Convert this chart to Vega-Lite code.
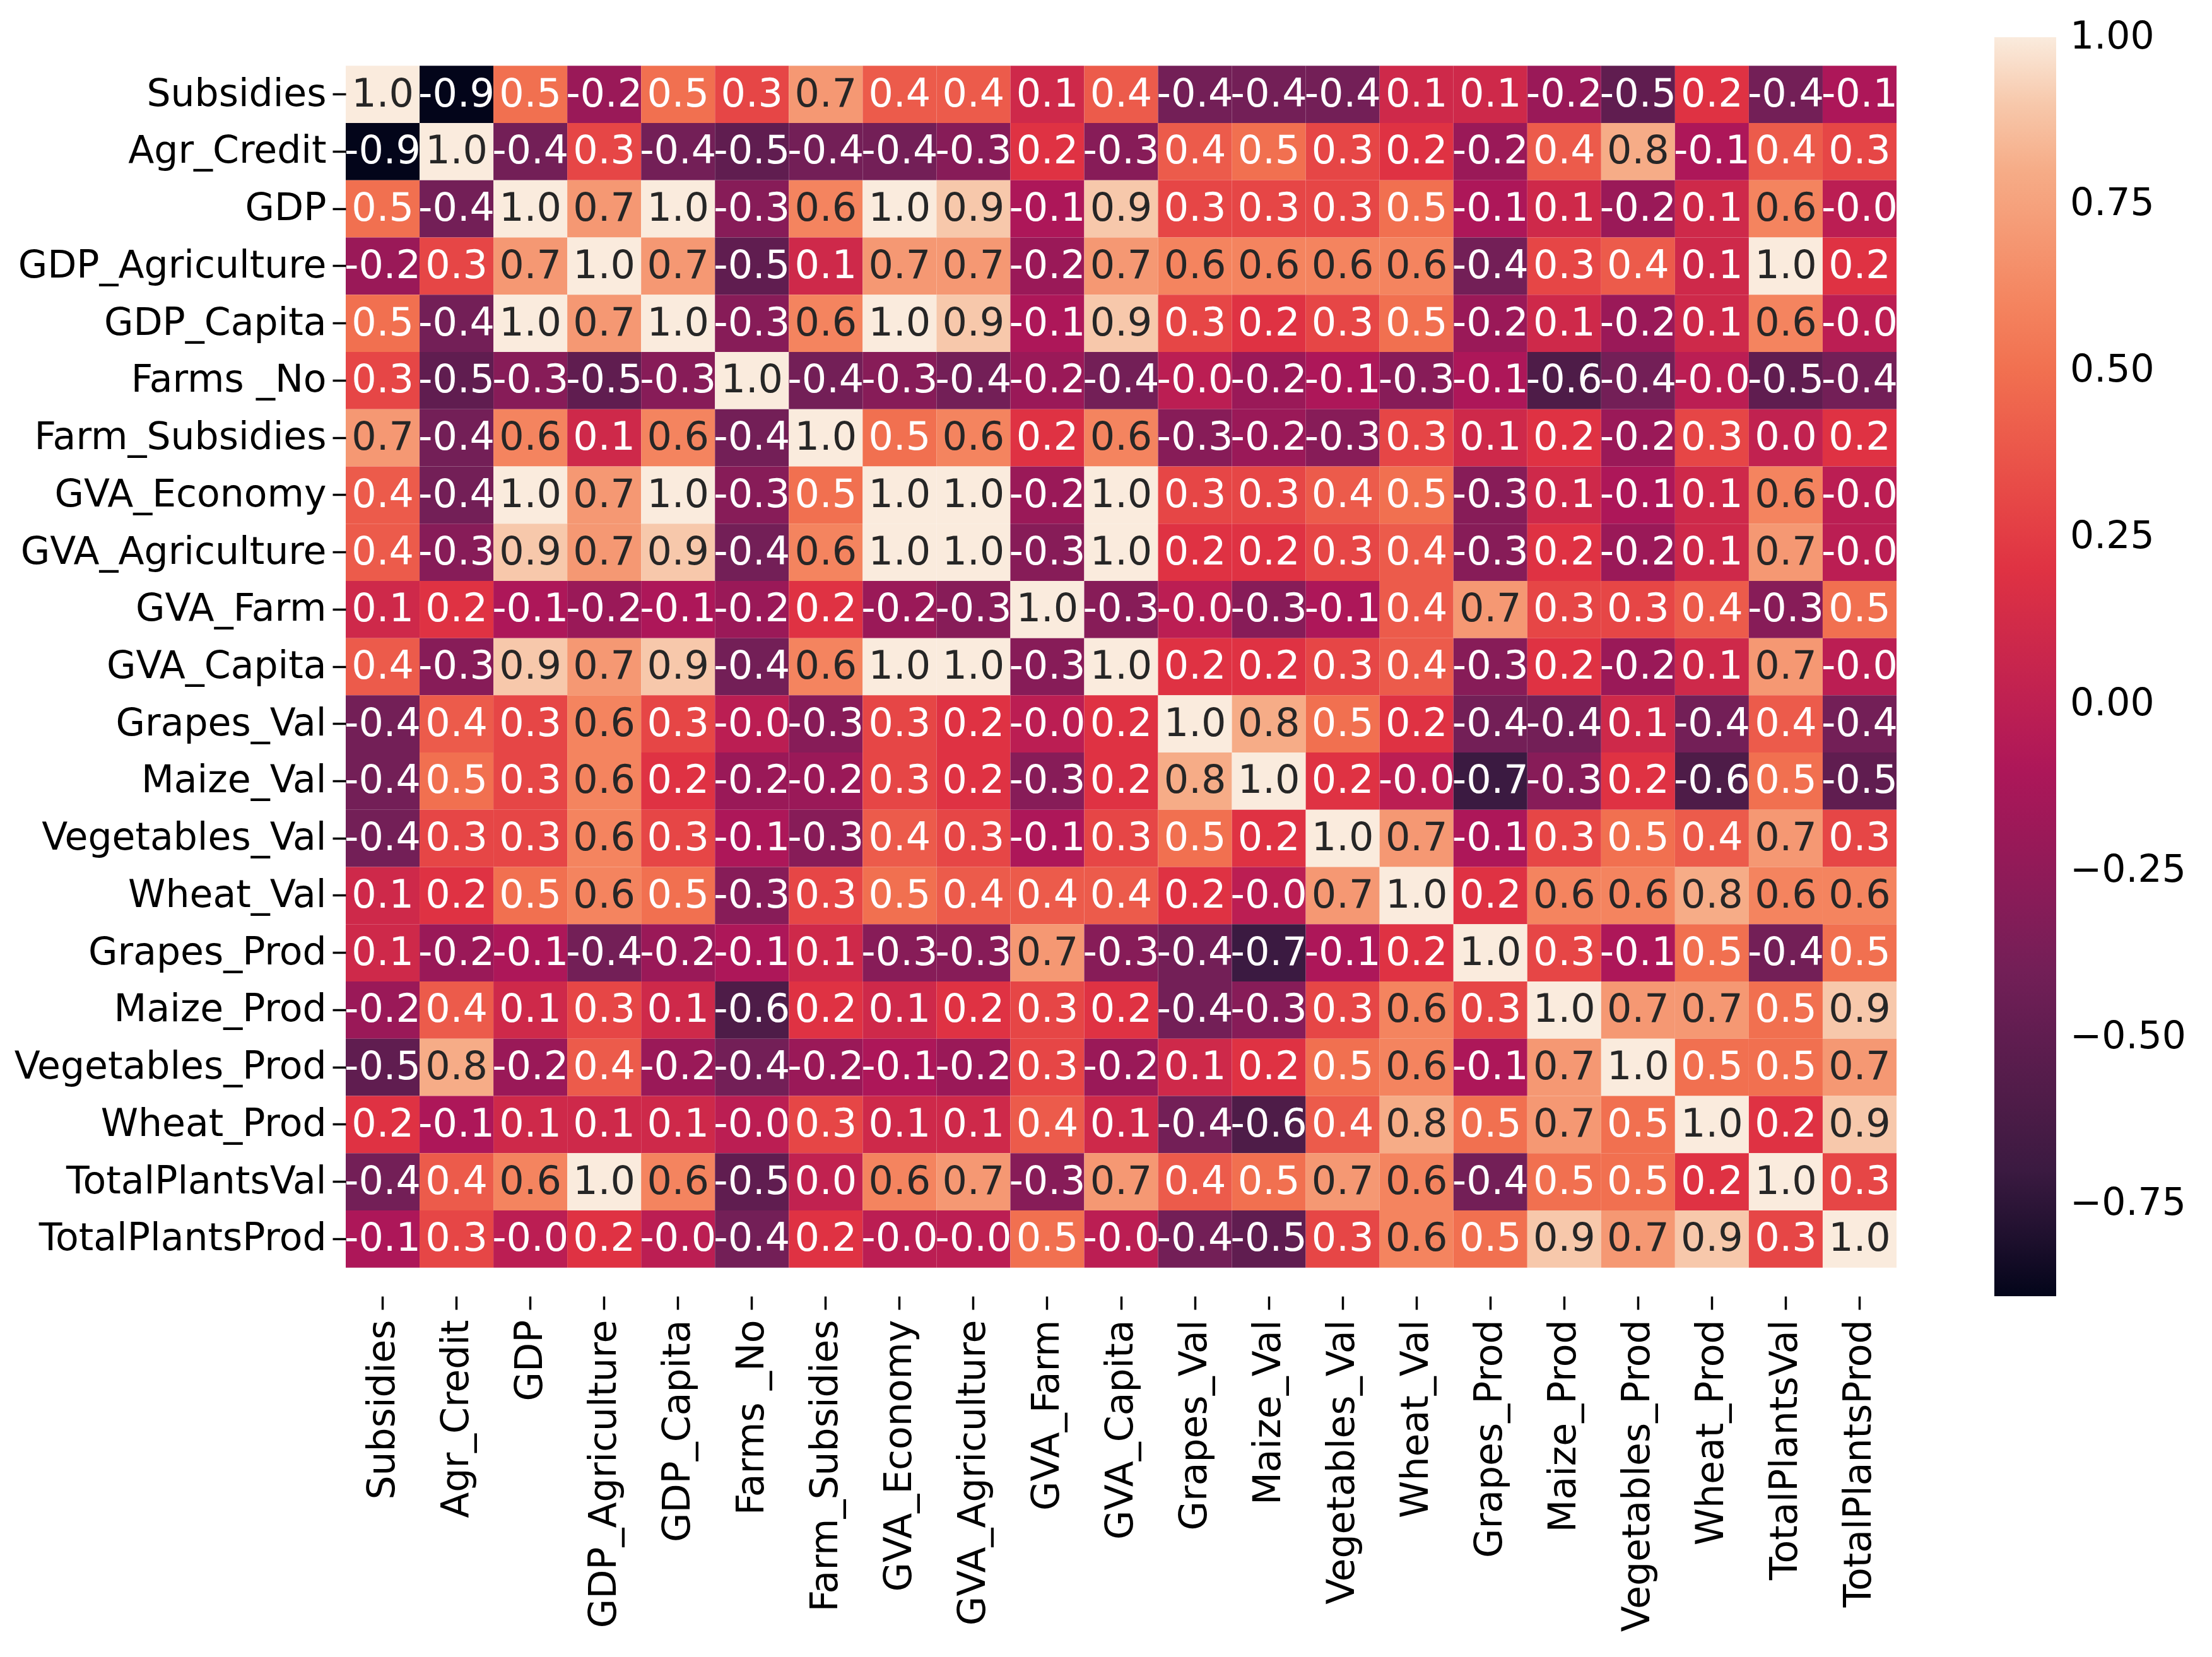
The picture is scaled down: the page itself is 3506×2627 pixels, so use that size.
{
"$schema": "https://vega.github.io/schema/vega-lite/v6.json",
"autosize": {"type": "none"},
"padding": {"left": 548, "top": 59, "right": 500, "bottom": 572},
"width": 2458,
"height": 1996,
"background": "white",
"config": {"font": "DejaVu Sans", "view": {"stroke": null}},
"data": {"values": [
{"r":"Subsidies","c":"Subsidies","v":1.0,"t":"1.0"},{"r":"Subsidies","c":"Agr_Credit","v":-0.89,"t":"-0.9"},{"r":"Subsidies","c":"GDP","v":0.5,"t":"0.5"},{"r":"Subsidies","c":"GDP_Agriculture","v":-0.2,"t":"-0.2"},{"r":"Subsidies","c":"GDP_Capita","v":0.5,"t":"0.5"},{"r":"Subsidies","c":"Farms _No","v":0.3,"t":"0.3"},{"r":"Subsidies","c":"Farm_Subsidies","v":0.7,"t":"0.7"},{"r":"Subsidies","c":"GVA_Economy","v":0.4,"t":"0.4"},{"r":"Subsidies","c":"GVA_Agriculture","v":0.4,"t":"0.4"},{"r":"Subsidies","c":"GVA_Farm","v":0.1,"t":"0.1"},{"r":"Subsidies","c":"GVA_Capita","v":0.4,"t":"0.4"},{"r":"Subsidies","c":"Grapes_Val","v":-0.4,"t":"-0.4"},{"r":"Subsidies","c":"Maize_Val","v":-0.4,"t":"-0.4"},{"r":"Subsidies","c":"Vegetables_Val","v":-0.4,"t":"-0.4"},{"r":"Subsidies","c":"Wheat_Val","v":0.1,"t":"0.1"},{"r":"Subsidies","c":"Grapes_Prod","v":0.1,"t":"0.1"},{"r":"Subsidies","c":"Maize_Prod","v":-0.2,"t":"-0.2"},{"r":"Subsidies","c":"Vegetables_Prod","v":-0.5,"t":"-0.5"},{"r":"Subsidies","c":"Wheat_Prod","v":0.2,"t":"0.2"},{"r":"Subsidies","c":"TotalPlantsVal","v":-0.4,"t":"-0.4"},{"r":"Subsidies","c":"TotalPlantsProd","v":-0.1,"t":"-0.1"},
{"r":"Agr_Credit","c":"Subsidies","v":-0.89,"t":"-0.9"},{"r":"Agr_Credit","c":"Agr_Credit","v":1.0,"t":"1.0"},{"r":"Agr_Credit","c":"GDP","v":-0.4,"t":"-0.4"},{"r":"Agr_Credit","c":"GDP_Agriculture","v":0.3,"t":"0.3"},{"r":"Agr_Credit","c":"GDP_Capita","v":-0.4,"t":"-0.4"},{"r":"Agr_Credit","c":"Farms _No","v":-0.5,"t":"-0.5"},{"r":"Agr_Credit","c":"Farm_Subsidies","v":-0.4,"t":"-0.4"},{"r":"Agr_Credit","c":"GVA_Economy","v":-0.4,"t":"-0.4"},{"r":"Agr_Credit","c":"GVA_Agriculture","v":-0.3,"t":"-0.3"},{"r":"Agr_Credit","c":"GVA_Farm","v":0.2,"t":"0.2"},{"r":"Agr_Credit","c":"GVA_Capita","v":-0.3,"t":"-0.3"},{"r":"Agr_Credit","c":"Grapes_Val","v":0.4,"t":"0.4"},{"r":"Agr_Credit","c":"Maize_Val","v":0.5,"t":"0.5"},{"r":"Agr_Credit","c":"Vegetables_Val","v":0.3,"t":"0.3"},{"r":"Agr_Credit","c":"Wheat_Val","v":0.2,"t":"0.2"},{"r":"Agr_Credit","c":"Grapes_Prod","v":-0.2,"t":"-0.2"},{"r":"Agr_Credit","c":"Maize_Prod","v":0.4,"t":"0.4"},{"r":"Agr_Credit","c":"Vegetables_Prod","v":0.8,"t":"0.8"},{"r":"Agr_Credit","c":"Wheat_Prod","v":-0.1,"t":"-0.1"},{"r":"Agr_Credit","c":"TotalPlantsVal","v":0.4,"t":"0.4"},{"r":"Agr_Credit","c":"TotalPlantsProd","v":0.3,"t":"0.3"},
{"r":"GDP","c":"Subsidies","v":0.5,"t":"0.5"},{"r":"GDP","c":"Agr_Credit","v":-0.4,"t":"-0.4"},{"r":"GDP","c":"GDP","v":1.0,"t":"1.0"},{"r":"GDP","c":"GDP_Agriculture","v":0.7,"t":"0.7"},{"r":"GDP","c":"GDP_Capita","v":1.0,"t":"1.0"},{"r":"GDP","c":"Farms _No","v":-0.3,"t":"-0.3"},{"r":"GDP","c":"Farm_Subsidies","v":0.6,"t":"0.6"},{"r":"GDP","c":"GVA_Economy","v":1.0,"t":"1.0"},{"r":"GDP","c":"GVA_Agriculture","v":0.9,"t":"0.9"},{"r":"GDP","c":"GVA_Farm","v":-0.1,"t":"-0.1"},{"r":"GDP","c":"GVA_Capita","v":0.9,"t":"0.9"},{"r":"GDP","c":"Grapes_Val","v":0.3,"t":"0.3"},{"r":"GDP","c":"Maize_Val","v":0.3,"t":"0.3"},{"r":"GDP","c":"Vegetables_Val","v":0.3,"t":"0.3"},{"r":"GDP","c":"Wheat_Val","v":0.5,"t":"0.5"},{"r":"GDP","c":"Grapes_Prod","v":-0.1,"t":"-0.1"},{"r":"GDP","c":"Maize_Prod","v":0.1,"t":"0.1"},{"r":"GDP","c":"Vegetables_Prod","v":-0.2,"t":"-0.2"},{"r":"GDP","c":"Wheat_Prod","v":0.1,"t":"0.1"},{"r":"GDP","c":"TotalPlantsVal","v":0.6,"t":"0.6"},{"r":"GDP","c":"TotalPlantsProd","v":-0.02,"t":"-0.0"},
{"r":"GDP_Agriculture","c":"Subsidies","v":-0.2,"t":"-0.2"},{"r":"GDP_Agriculture","c":"Agr_Credit","v":0.3,"t":"0.3"},{"r":"GDP_Agriculture","c":"GDP","v":0.7,"t":"0.7"},{"r":"GDP_Agriculture","c":"GDP_Agriculture","v":1.0,"t":"1.0"},{"r":"GDP_Agriculture","c":"GDP_Capita","v":0.7,"t":"0.7"},{"r":"GDP_Agriculture","c":"Farms _No","v":-0.5,"t":"-0.5"},{"r":"GDP_Agriculture","c":"Farm_Subsidies","v":0.1,"t":"0.1"},{"r":"GDP_Agriculture","c":"GVA_Economy","v":0.7,"t":"0.7"},{"r":"GDP_Agriculture","c":"GVA_Agriculture","v":0.7,"t":"0.7"},{"r":"GDP_Agriculture","c":"GVA_Farm","v":-0.2,"t":"-0.2"},{"r":"GDP_Agriculture","c":"GVA_Capita","v":0.7,"t":"0.7"},{"r":"GDP_Agriculture","c":"Grapes_Val","v":0.6,"t":"0.6"},{"r":"GDP_Agriculture","c":"Maize_Val","v":0.6,"t":"0.6"},{"r":"GDP_Agriculture","c":"Vegetables_Val","v":0.6,"t":"0.6"},{"r":"GDP_Agriculture","c":"Wheat_Val","v":0.6,"t":"0.6"},{"r":"GDP_Agriculture","c":"Grapes_Prod","v":-0.4,"t":"-0.4"},{"r":"GDP_Agriculture","c":"Maize_Prod","v":0.3,"t":"0.3"},{"r":"GDP_Agriculture","c":"Vegetables_Prod","v":0.4,"t":"0.4"},{"r":"GDP_Agriculture","c":"Wheat_Prod","v":0.1,"t":"0.1"},{"r":"GDP_Agriculture","c":"TotalPlantsVal","v":1.0,"t":"1.0"},{"r":"GDP_Agriculture","c":"TotalPlantsProd","v":0.2,"t":"0.2"},
{"r":"GDP_Capita","c":"Subsidies","v":0.5,"t":"0.5"},{"r":"GDP_Capita","c":"Agr_Credit","v":-0.4,"t":"-0.4"},{"r":"GDP_Capita","c":"GDP","v":1.0,"t":"1.0"},{"r":"GDP_Capita","c":"GDP_Agriculture","v":0.7,"t":"0.7"},{"r":"GDP_Capita","c":"GDP_Capita","v":1.0,"t":"1.0"},{"r":"GDP_Capita","c":"Farms _No","v":-0.3,"t":"-0.3"},{"r":"GDP_Capita","c":"Farm_Subsidies","v":0.6,"t":"0.6"},{"r":"GDP_Capita","c":"GVA_Economy","v":1.0,"t":"1.0"},{"r":"GDP_Capita","c":"GVA_Agriculture","v":0.9,"t":"0.9"},{"r":"GDP_Capita","c":"GVA_Farm","v":-0.1,"t":"-0.1"},{"r":"GDP_Capita","c":"GVA_Capita","v":0.9,"t":"0.9"},{"r":"GDP_Capita","c":"Grapes_Val","v":0.3,"t":"0.3"},{"r":"GDP_Capita","c":"Maize_Val","v":0.2,"t":"0.2"},{"r":"GDP_Capita","c":"Vegetables_Val","v":0.3,"t":"0.3"},{"r":"GDP_Capita","c":"Wheat_Val","v":0.5,"t":"0.5"},{"r":"GDP_Capita","c":"Grapes_Prod","v":-0.2,"t":"-0.2"},{"r":"GDP_Capita","c":"Maize_Prod","v":0.1,"t":"0.1"},{"r":"GDP_Capita","c":"Vegetables_Prod","v":-0.2,"t":"-0.2"},{"r":"GDP_Capita","c":"Wheat_Prod","v":0.1,"t":"0.1"},{"r":"GDP_Capita","c":"TotalPlantsVal","v":0.6,"t":"0.6"},{"r":"GDP_Capita","c":"TotalPlantsProd","v":-0.02,"t":"-0.0"},
{"r":"Farms _No","c":"Subsidies","v":0.3,"t":"0.3"},{"r":"Farms _No","c":"Agr_Credit","v":-0.5,"t":"-0.5"},{"r":"Farms _No","c":"GDP","v":-0.3,"t":"-0.3"},{"r":"Farms _No","c":"GDP_Agriculture","v":-0.5,"t":"-0.5"},{"r":"Farms _No","c":"GDP_Capita","v":-0.3,"t":"-0.3"},{"r":"Farms _No","c":"Farms _No","v":1.0,"t":"1.0"},{"r":"Farms _No","c":"Farm_Subsidies","v":-0.4,"t":"-0.4"},{"r":"Farms _No","c":"GVA_Economy","v":-0.3,"t":"-0.3"},{"r":"Farms _No","c":"GVA_Agriculture","v":-0.4,"t":"-0.4"},{"r":"Farms _No","c":"GVA_Farm","v":-0.2,"t":"-0.2"},{"r":"Farms _No","c":"GVA_Capita","v":-0.4,"t":"-0.4"},{"r":"Farms _No","c":"Grapes_Val","v":-0.02,"t":"-0.0"},{"r":"Farms _No","c":"Maize_Val","v":-0.2,"t":"-0.2"},{"r":"Farms _No","c":"Vegetables_Val","v":-0.1,"t":"-0.1"},{"r":"Farms _No","c":"Wheat_Val","v":-0.3,"t":"-0.3"},{"r":"Farms _No","c":"Grapes_Prod","v":-0.1,"t":"-0.1"},{"r":"Farms _No","c":"Maize_Prod","v":-0.6,"t":"-0.6"},{"r":"Farms _No","c":"Vegetables_Prod","v":-0.4,"t":"-0.4"},{"r":"Farms _No","c":"Wheat_Prod","v":-0.02,"t":"-0.0"},{"r":"Farms _No","c":"TotalPlantsVal","v":-0.5,"t":"-0.5"},{"r":"Farms _No","c":"TotalPlantsProd","v":-0.4,"t":"-0.4"},
{"r":"Farm_Subsidies","c":"Subsidies","v":0.7,"t":"0.7"},{"r":"Farm_Subsidies","c":"Agr_Credit","v":-0.4,"t":"-0.4"},{"r":"Farm_Subsidies","c":"GDP","v":0.6,"t":"0.6"},{"r":"Farm_Subsidies","c":"GDP_Agriculture","v":0.1,"t":"0.1"},{"r":"Farm_Subsidies","c":"GDP_Capita","v":0.6,"t":"0.6"},{"r":"Farm_Subsidies","c":"Farms _No","v":-0.4,"t":"-0.4"},{"r":"Farm_Subsidies","c":"Farm_Subsidies","v":1.0,"t":"1.0"},{"r":"Farm_Subsidies","c":"GVA_Economy","v":0.5,"t":"0.5"},{"r":"Farm_Subsidies","c":"GVA_Agriculture","v":0.6,"t":"0.6"},{"r":"Farm_Subsidies","c":"GVA_Farm","v":0.2,"t":"0.2"},{"r":"Farm_Subsidies","c":"GVA_Capita","v":0.6,"t":"0.6"},{"r":"Farm_Subsidies","c":"Grapes_Val","v":-0.3,"t":"-0.3"},{"r":"Farm_Subsidies","c":"Maize_Val","v":-0.2,"t":"-0.2"},{"r":"Farm_Subsidies","c":"Vegetables_Val","v":-0.3,"t":"-0.3"},{"r":"Farm_Subsidies","c":"Wheat_Val","v":0.3,"t":"0.3"},{"r":"Farm_Subsidies","c":"Grapes_Prod","v":0.1,"t":"0.1"},{"r":"Farm_Subsidies","c":"Maize_Prod","v":0.2,"t":"0.2"},{"r":"Farm_Subsidies","c":"Vegetables_Prod","v":-0.2,"t":"-0.2"},{"r":"Farm_Subsidies","c":"Wheat_Prod","v":0.3,"t":"0.3"},{"r":"Farm_Subsidies","c":"TotalPlantsVal","v":0.02,"t":"0.0"},{"r":"Farm_Subsidies","c":"TotalPlantsProd","v":0.2,"t":"0.2"},
{"r":"GVA_Economy","c":"Subsidies","v":0.4,"t":"0.4"},{"r":"GVA_Economy","c":"Agr_Credit","v":-0.4,"t":"-0.4"},{"r":"GVA_Economy","c":"GDP","v":1.0,"t":"1.0"},{"r":"GVA_Economy","c":"GDP_Agriculture","v":0.7,"t":"0.7"},{"r":"GVA_Economy","c":"GDP_Capita","v":1.0,"t":"1.0"},{"r":"GVA_Economy","c":"Farms _No","v":-0.3,"t":"-0.3"},{"r":"GVA_Economy","c":"Farm_Subsidies","v":0.5,"t":"0.5"},{"r":"GVA_Economy","c":"GVA_Economy","v":1.0,"t":"1.0"},{"r":"GVA_Economy","c":"GVA_Agriculture","v":1.0,"t":"1.0"},{"r":"GVA_Economy","c":"GVA_Farm","v":-0.2,"t":"-0.2"},{"r":"GVA_Economy","c":"GVA_Capita","v":1.0,"t":"1.0"},{"r":"GVA_Economy","c":"Grapes_Val","v":0.3,"t":"0.3"},{"r":"GVA_Economy","c":"Maize_Val","v":0.3,"t":"0.3"},{"r":"GVA_Economy","c":"Vegetables_Val","v":0.4,"t":"0.4"},{"r":"GVA_Economy","c":"Wheat_Val","v":0.5,"t":"0.5"},{"r":"GVA_Economy","c":"Grapes_Prod","v":-0.3,"t":"-0.3"},{"r":"GVA_Economy","c":"Maize_Prod","v":0.1,"t":"0.1"},{"r":"GVA_Economy","c":"Vegetables_Prod","v":-0.1,"t":"-0.1"},{"r":"GVA_Economy","c":"Wheat_Prod","v":0.1,"t":"0.1"},{"r":"GVA_Economy","c":"TotalPlantsVal","v":0.6,"t":"0.6"},{"r":"GVA_Economy","c":"TotalPlantsProd","v":-0.02,"t":"-0.0"},
{"r":"GVA_Agriculture","c":"Subsidies","v":0.4,"t":"0.4"},{"r":"GVA_Agriculture","c":"Agr_Credit","v":-0.3,"t":"-0.3"},{"r":"GVA_Agriculture","c":"GDP","v":0.9,"t":"0.9"},{"r":"GVA_Agriculture","c":"GDP_Agriculture","v":0.7,"t":"0.7"},{"r":"GVA_Agriculture","c":"GDP_Capita","v":0.9,"t":"0.9"},{"r":"GVA_Agriculture","c":"Farms _No","v":-0.4,"t":"-0.4"},{"r":"GVA_Agriculture","c":"Farm_Subsidies","v":0.6,"t":"0.6"},{"r":"GVA_Agriculture","c":"GVA_Economy","v":1.0,"t":"1.0"},{"r":"GVA_Agriculture","c":"GVA_Agriculture","v":1.0,"t":"1.0"},{"r":"GVA_Agriculture","c":"GVA_Farm","v":-0.3,"t":"-0.3"},{"r":"GVA_Agriculture","c":"GVA_Capita","v":1.0,"t":"1.0"},{"r":"GVA_Agriculture","c":"Grapes_Val","v":0.2,"t":"0.2"},{"r":"GVA_Agriculture","c":"Maize_Val","v":0.2,"t":"0.2"},{"r":"GVA_Agriculture","c":"Vegetables_Val","v":0.3,"t":"0.3"},{"r":"GVA_Agriculture","c":"Wheat_Val","v":0.4,"t":"0.4"},{"r":"GVA_Agriculture","c":"Grapes_Prod","v":-0.3,"t":"-0.3"},{"r":"GVA_Agriculture","c":"Maize_Prod","v":0.2,"t":"0.2"},{"r":"GVA_Agriculture","c":"Vegetables_Prod","v":-0.2,"t":"-0.2"},{"r":"GVA_Agriculture","c":"Wheat_Prod","v":0.1,"t":"0.1"},{"r":"GVA_Agriculture","c":"TotalPlantsVal","v":0.7,"t":"0.7"},{"r":"GVA_Agriculture","c":"TotalPlantsProd","v":-0.02,"t":"-0.0"},
{"r":"GVA_Farm","c":"Subsidies","v":0.1,"t":"0.1"},{"r":"GVA_Farm","c":"Agr_Credit","v":0.2,"t":"0.2"},{"r":"GVA_Farm","c":"GDP","v":-0.1,"t":"-0.1"},{"r":"GVA_Farm","c":"GDP_Agriculture","v":-0.2,"t":"-0.2"},{"r":"GVA_Farm","c":"GDP_Capita","v":-0.1,"t":"-0.1"},{"r":"GVA_Farm","c":"Farms _No","v":-0.2,"t":"-0.2"},{"r":"GVA_Farm","c":"Farm_Subsidies","v":0.2,"t":"0.2"},{"r":"GVA_Farm","c":"GVA_Economy","v":-0.2,"t":"-0.2"},{"r":"GVA_Farm","c":"GVA_Agriculture","v":-0.3,"t":"-0.3"},{"r":"GVA_Farm","c":"GVA_Farm","v":1.0,"t":"1.0"},{"r":"GVA_Farm","c":"GVA_Capita","v":-0.3,"t":"-0.3"},{"r":"GVA_Farm","c":"Grapes_Val","v":-0.02,"t":"-0.0"},{"r":"GVA_Farm","c":"Maize_Val","v":-0.3,"t":"-0.3"},{"r":"GVA_Farm","c":"Vegetables_Val","v":-0.1,"t":"-0.1"},{"r":"GVA_Farm","c":"Wheat_Val","v":0.4,"t":"0.4"},{"r":"GVA_Farm","c":"Grapes_Prod","v":0.7,"t":"0.7"},{"r":"GVA_Farm","c":"Maize_Prod","v":0.3,"t":"0.3"},{"r":"GVA_Farm","c":"Vegetables_Prod","v":0.3,"t":"0.3"},{"r":"GVA_Farm","c":"Wheat_Prod","v":0.4,"t":"0.4"},{"r":"GVA_Farm","c":"TotalPlantsVal","v":-0.3,"t":"-0.3"},{"r":"GVA_Farm","c":"TotalPlantsProd","v":0.5,"t":"0.5"},
{"r":"GVA_Capita","c":"Subsidies","v":0.4,"t":"0.4"},{"r":"GVA_Capita","c":"Agr_Credit","v":-0.3,"t":"-0.3"},{"r":"GVA_Capita","c":"GDP","v":0.9,"t":"0.9"},{"r":"GVA_Capita","c":"GDP_Agriculture","v":0.7,"t":"0.7"},{"r":"GVA_Capita","c":"GDP_Capita","v":0.9,"t":"0.9"},{"r":"GVA_Capita","c":"Farms _No","v":-0.4,"t":"-0.4"},{"r":"GVA_Capita","c":"Farm_Subsidies","v":0.6,"t":"0.6"},{"r":"GVA_Capita","c":"GVA_Economy","v":1.0,"t":"1.0"},{"r":"GVA_Capita","c":"GVA_Agriculture","v":1.0,"t":"1.0"},{"r":"GVA_Capita","c":"GVA_Farm","v":-0.3,"t":"-0.3"},{"r":"GVA_Capita","c":"GVA_Capita","v":1.0,"t":"1.0"},{"r":"GVA_Capita","c":"Grapes_Val","v":0.2,"t":"0.2"},{"r":"GVA_Capita","c":"Maize_Val","v":0.2,"t":"0.2"},{"r":"GVA_Capita","c":"Vegetables_Val","v":0.3,"t":"0.3"},{"r":"GVA_Capita","c":"Wheat_Val","v":0.4,"t":"0.4"},{"r":"GVA_Capita","c":"Grapes_Prod","v":-0.3,"t":"-0.3"},{"r":"GVA_Capita","c":"Maize_Prod","v":0.2,"t":"0.2"},{"r":"GVA_Capita","c":"Vegetables_Prod","v":-0.2,"t":"-0.2"},{"r":"GVA_Capita","c":"Wheat_Prod","v":0.1,"t":"0.1"},{"r":"GVA_Capita","c":"TotalPlantsVal","v":0.7,"t":"0.7"},{"r":"GVA_Capita","c":"TotalPlantsProd","v":-0.02,"t":"-0.0"},
{"r":"Grapes_Val","c":"Subsidies","v":-0.4,"t":"-0.4"},{"r":"Grapes_Val","c":"Agr_Credit","v":0.4,"t":"0.4"},{"r":"Grapes_Val","c":"GDP","v":0.3,"t":"0.3"},{"r":"Grapes_Val","c":"GDP_Agriculture","v":0.6,"t":"0.6"},{"r":"Grapes_Val","c":"GDP_Capita","v":0.3,"t":"0.3"},{"r":"Grapes_Val","c":"Farms _No","v":-0.02,"t":"-0.0"},{"r":"Grapes_Val","c":"Farm_Subsidies","v":-0.3,"t":"-0.3"},{"r":"Grapes_Val","c":"GVA_Economy","v":0.3,"t":"0.3"},{"r":"Grapes_Val","c":"GVA_Agriculture","v":0.2,"t":"0.2"},{"r":"Grapes_Val","c":"GVA_Farm","v":-0.02,"t":"-0.0"},{"r":"Grapes_Val","c":"GVA_Capita","v":0.2,"t":"0.2"},{"r":"Grapes_Val","c":"Grapes_Val","v":1.0,"t":"1.0"},{"r":"Grapes_Val","c":"Maize_Val","v":0.8,"t":"0.8"},{"r":"Grapes_Val","c":"Vegetables_Val","v":0.5,"t":"0.5"},{"r":"Grapes_Val","c":"Wheat_Val","v":0.2,"t":"0.2"},{"r":"Grapes_Val","c":"Grapes_Prod","v":-0.4,"t":"-0.4"},{"r":"Grapes_Val","c":"Maize_Prod","v":-0.4,"t":"-0.4"},{"r":"Grapes_Val","c":"Vegetables_Prod","v":0.1,"t":"0.1"},{"r":"Grapes_Val","c":"Wheat_Prod","v":-0.4,"t":"-0.4"},{"r":"Grapes_Val","c":"TotalPlantsVal","v":0.4,"t":"0.4"},{"r":"Grapes_Val","c":"TotalPlantsProd","v":-0.4,"t":"-0.4"},
{"r":"Maize_Val","c":"Subsidies","v":-0.4,"t":"-0.4"},{"r":"Maize_Val","c":"Agr_Credit","v":0.5,"t":"0.5"},{"r":"Maize_Val","c":"GDP","v":0.3,"t":"0.3"},{"r":"Maize_Val","c":"GDP_Agriculture","v":0.6,"t":"0.6"},{"r":"Maize_Val","c":"GDP_Capita","v":0.2,"t":"0.2"},{"r":"Maize_Val","c":"Farms _No","v":-0.2,"t":"-0.2"},{"r":"Maize_Val","c":"Farm_Subsidies","v":-0.2,"t":"-0.2"},{"r":"Maize_Val","c":"GVA_Economy","v":0.3,"t":"0.3"},{"r":"Maize_Val","c":"GVA_Agriculture","v":0.2,"t":"0.2"},{"r":"Maize_Val","c":"GVA_Farm","v":-0.3,"t":"-0.3"},{"r":"Maize_Val","c":"GVA_Capita","v":0.2,"t":"0.2"},{"r":"Maize_Val","c":"Grapes_Val","v":0.8,"t":"0.8"},{"r":"Maize_Val","c":"Maize_Val","v":1.0,"t":"1.0"},{"r":"Maize_Val","c":"Vegetables_Val","v":0.2,"t":"0.2"},{"r":"Maize_Val","c":"Wheat_Val","v":-0.02,"t":"-0.0"},{"r":"Maize_Val","c":"Grapes_Prod","v":-0.7,"t":"-0.7"},{"r":"Maize_Val","c":"Maize_Prod","v":-0.3,"t":"-0.3"},{"r":"Maize_Val","c":"Vegetables_Prod","v":0.2,"t":"0.2"},{"r":"Maize_Val","c":"Wheat_Prod","v":-0.6,"t":"-0.6"},{"r":"Maize_Val","c":"TotalPlantsVal","v":0.5,"t":"0.5"},{"r":"Maize_Val","c":"TotalPlantsProd","v":-0.5,"t":"-0.5"},
{"r":"Vegetables_Val","c":"Subsidies","v":-0.4,"t":"-0.4"},{"r":"Vegetables_Val","c":"Agr_Credit","v":0.3,"t":"0.3"},{"r":"Vegetables_Val","c":"GDP","v":0.3,"t":"0.3"},{"r":"Vegetables_Val","c":"GDP_Agriculture","v":0.6,"t":"0.6"},{"r":"Vegetables_Val","c":"GDP_Capita","v":0.3,"t":"0.3"},{"r":"Vegetables_Val","c":"Farms _No","v":-0.1,"t":"-0.1"},{"r":"Vegetables_Val","c":"Farm_Subsidies","v":-0.3,"t":"-0.3"},{"r":"Vegetables_Val","c":"GVA_Economy","v":0.4,"t":"0.4"},{"r":"Vegetables_Val","c":"GVA_Agriculture","v":0.3,"t":"0.3"},{"r":"Vegetables_Val","c":"GVA_Farm","v":-0.1,"t":"-0.1"},{"r":"Vegetables_Val","c":"GVA_Capita","v":0.3,"t":"0.3"},{"r":"Vegetables_Val","c":"Grapes_Val","v":0.5,"t":"0.5"},{"r":"Vegetables_Val","c":"Maize_Val","v":0.2,"t":"0.2"},{"r":"Vegetables_Val","c":"Vegetables_Val","v":1.0,"t":"1.0"},{"r":"Vegetables_Val","c":"Wheat_Val","v":0.7,"t":"0.7"},{"r":"Vegetables_Val","c":"Grapes_Prod","v":-0.1,"t":"-0.1"},{"r":"Vegetables_Val","c":"Maize_Prod","v":0.3,"t":"0.3"},{"r":"Vegetables_Val","c":"Vegetables_Prod","v":0.5,"t":"0.5"},{"r":"Vegetables_Val","c":"Wheat_Prod","v":0.4,"t":"0.4"},{"r":"Vegetables_Val","c":"TotalPlantsVal","v":0.7,"t":"0.7"},{"r":"Vegetables_Val","c":"TotalPlantsProd","v":0.3,"t":"0.3"},
{"r":"Wheat_Val","c":"Subsidies","v":0.1,"t":"0.1"},{"r":"Wheat_Val","c":"Agr_Credit","v":0.2,"t":"0.2"},{"r":"Wheat_Val","c":"GDP","v":0.5,"t":"0.5"},{"r":"Wheat_Val","c":"GDP_Agriculture","v":0.6,"t":"0.6"},{"r":"Wheat_Val","c":"GDP_Capita","v":0.5,"t":"0.5"},{"r":"Wheat_Val","c":"Farms _No","v":-0.3,"t":"-0.3"},{"r":"Wheat_Val","c":"Farm_Subsidies","v":0.3,"t":"0.3"},{"r":"Wheat_Val","c":"GVA_Economy","v":0.5,"t":"0.5"},{"r":"Wheat_Val","c":"GVA_Agriculture","v":0.4,"t":"0.4"},{"r":"Wheat_Val","c":"GVA_Farm","v":0.4,"t":"0.4"},{"r":"Wheat_Val","c":"GVA_Capita","v":0.4,"t":"0.4"},{"r":"Wheat_Val","c":"Grapes_Val","v":0.2,"t":"0.2"},{"r":"Wheat_Val","c":"Maize_Val","v":-0.02,"t":"-0.0"},{"r":"Wheat_Val","c":"Vegetables_Val","v":0.7,"t":"0.7"},{"r":"Wheat_Val","c":"Wheat_Val","v":1.0,"t":"1.0"},{"r":"Wheat_Val","c":"Grapes_Prod","v":0.2,"t":"0.2"},{"r":"Wheat_Val","c":"Maize_Prod","v":0.6,"t":"0.6"},{"r":"Wheat_Val","c":"Vegetables_Prod","v":0.6,"t":"0.6"},{"r":"Wheat_Val","c":"Wheat_Prod","v":0.8,"t":"0.8"},{"r":"Wheat_Val","c":"TotalPlantsVal","v":0.6,"t":"0.6"},{"r":"Wheat_Val","c":"TotalPlantsProd","v":0.6,"t":"0.6"},
{"r":"Grapes_Prod","c":"Subsidies","v":0.1,"t":"0.1"},{"r":"Grapes_Prod","c":"Agr_Credit","v":-0.2,"t":"-0.2"},{"r":"Grapes_Prod","c":"GDP","v":-0.1,"t":"-0.1"},{"r":"Grapes_Prod","c":"GDP_Agriculture","v":-0.4,"t":"-0.4"},{"r":"Grapes_Prod","c":"GDP_Capita","v":-0.2,"t":"-0.2"},{"r":"Grapes_Prod","c":"Farms _No","v":-0.1,"t":"-0.1"},{"r":"Grapes_Prod","c":"Farm_Subsidies","v":0.1,"t":"0.1"},{"r":"Grapes_Prod","c":"GVA_Economy","v":-0.3,"t":"-0.3"},{"r":"Grapes_Prod","c":"GVA_Agriculture","v":-0.3,"t":"-0.3"},{"r":"Grapes_Prod","c":"GVA_Farm","v":0.7,"t":"0.7"},{"r":"Grapes_Prod","c":"GVA_Capita","v":-0.3,"t":"-0.3"},{"r":"Grapes_Prod","c":"Grapes_Val","v":-0.4,"t":"-0.4"},{"r":"Grapes_Prod","c":"Maize_Val","v":-0.7,"t":"-0.7"},{"r":"Grapes_Prod","c":"Vegetables_Val","v":-0.1,"t":"-0.1"},{"r":"Grapes_Prod","c":"Wheat_Val","v":0.2,"t":"0.2"},{"r":"Grapes_Prod","c":"Grapes_Prod","v":1.0,"t":"1.0"},{"r":"Grapes_Prod","c":"Maize_Prod","v":0.3,"t":"0.3"},{"r":"Grapes_Prod","c":"Vegetables_Prod","v":-0.1,"t":"-0.1"},{"r":"Grapes_Prod","c":"Wheat_Prod","v":0.5,"t":"0.5"},{"r":"Grapes_Prod","c":"TotalPlantsVal","v":-0.4,"t":"-0.4"},{"r":"Grapes_Prod","c":"TotalPlantsProd","v":0.5,"t":"0.5"},
{"r":"Maize_Prod","c":"Subsidies","v":-0.2,"t":"-0.2"},{"r":"Maize_Prod","c":"Agr_Credit","v":0.4,"t":"0.4"},{"r":"Maize_Prod","c":"GDP","v":0.1,"t":"0.1"},{"r":"Maize_Prod","c":"GDP_Agriculture","v":0.3,"t":"0.3"},{"r":"Maize_Prod","c":"GDP_Capita","v":0.1,"t":"0.1"},{"r":"Maize_Prod","c":"Farms _No","v":-0.6,"t":"-0.6"},{"r":"Maize_Prod","c":"Farm_Subsidies","v":0.2,"t":"0.2"},{"r":"Maize_Prod","c":"GVA_Economy","v":0.1,"t":"0.1"},{"r":"Maize_Prod","c":"GVA_Agriculture","v":0.2,"t":"0.2"},{"r":"Maize_Prod","c":"GVA_Farm","v":0.3,"t":"0.3"},{"r":"Maize_Prod","c":"GVA_Capita","v":0.2,"t":"0.2"},{"r":"Maize_Prod","c":"Grapes_Val","v":-0.4,"t":"-0.4"},{"r":"Maize_Prod","c":"Maize_Val","v":-0.3,"t":"-0.3"},{"r":"Maize_Prod","c":"Vegetables_Val","v":0.3,"t":"0.3"},{"r":"Maize_Prod","c":"Wheat_Val","v":0.6,"t":"0.6"},{"r":"Maize_Prod","c":"Grapes_Prod","v":0.3,"t":"0.3"},{"r":"Maize_Prod","c":"Maize_Prod","v":1.0,"t":"1.0"},{"r":"Maize_Prod","c":"Vegetables_Prod","v":0.7,"t":"0.7"},{"r":"Maize_Prod","c":"Wheat_Prod","v":0.7,"t":"0.7"},{"r":"Maize_Prod","c":"TotalPlantsVal","v":0.5,"t":"0.5"},{"r":"Maize_Prod","c":"TotalPlantsProd","v":0.9,"t":"0.9"},
{"r":"Vegetables_Prod","c":"Subsidies","v":-0.5,"t":"-0.5"},{"r":"Vegetables_Prod","c":"Agr_Credit","v":0.8,"t":"0.8"},{"r":"Vegetables_Prod","c":"GDP","v":-0.2,"t":"-0.2"},{"r":"Vegetables_Prod","c":"GDP_Agriculture","v":0.4,"t":"0.4"},{"r":"Vegetables_Prod","c":"GDP_Capita","v":-0.2,"t":"-0.2"},{"r":"Vegetables_Prod","c":"Farms _No","v":-0.4,"t":"-0.4"},{"r":"Vegetables_Prod","c":"Farm_Subsidies","v":-0.2,"t":"-0.2"},{"r":"Vegetables_Prod","c":"GVA_Economy","v":-0.1,"t":"-0.1"},{"r":"Vegetables_Prod","c":"GVA_Agriculture","v":-0.2,"t":"-0.2"},{"r":"Vegetables_Prod","c":"GVA_Farm","v":0.3,"t":"0.3"},{"r":"Vegetables_Prod","c":"GVA_Capita","v":-0.2,"t":"-0.2"},{"r":"Vegetables_Prod","c":"Grapes_Val","v":0.1,"t":"0.1"},{"r":"Vegetables_Prod","c":"Maize_Val","v":0.2,"t":"0.2"},{"r":"Vegetables_Prod","c":"Vegetables_Val","v":0.5,"t":"0.5"},{"r":"Vegetables_Prod","c":"Wheat_Val","v":0.6,"t":"0.6"},{"r":"Vegetables_Prod","c":"Grapes_Prod","v":-0.1,"t":"-0.1"},{"r":"Vegetables_Prod","c":"Maize_Prod","v":0.7,"t":"0.7"},{"r":"Vegetables_Prod","c":"Vegetables_Prod","v":1.0,"t":"1.0"},{"r":"Vegetables_Prod","c":"Wheat_Prod","v":0.5,"t":"0.5"},{"r":"Vegetables_Prod","c":"TotalPlantsVal","v":0.5,"t":"0.5"},{"r":"Vegetables_Prod","c":"TotalPlantsProd","v":0.7,"t":"0.7"},
{"r":"Wheat_Prod","c":"Subsidies","v":0.2,"t":"0.2"},{"r":"Wheat_Prod","c":"Agr_Credit","v":-0.1,"t":"-0.1"},{"r":"Wheat_Prod","c":"GDP","v":0.1,"t":"0.1"},{"r":"Wheat_Prod","c":"GDP_Agriculture","v":0.1,"t":"0.1"},{"r":"Wheat_Prod","c":"GDP_Capita","v":0.1,"t":"0.1"},{"r":"Wheat_Prod","c":"Farms _No","v":-0.02,"t":"-0.0"},{"r":"Wheat_Prod","c":"Farm_Subsidies","v":0.3,"t":"0.3"},{"r":"Wheat_Prod","c":"GVA_Economy","v":0.1,"t":"0.1"},{"r":"Wheat_Prod","c":"GVA_Agriculture","v":0.1,"t":"0.1"},{"r":"Wheat_Prod","c":"GVA_Farm","v":0.4,"t":"0.4"},{"r":"Wheat_Prod","c":"GVA_Capita","v":0.1,"t":"0.1"},{"r":"Wheat_Prod","c":"Grapes_Val","v":-0.4,"t":"-0.4"},{"r":"Wheat_Prod","c":"Maize_Val","v":-0.6,"t":"-0.6"},{"r":"Wheat_Prod","c":"Vegetables_Val","v":0.4,"t":"0.4"},{"r":"Wheat_Prod","c":"Wheat_Val","v":0.8,"t":"0.8"},{"r":"Wheat_Prod","c":"Grapes_Prod","v":0.5,"t":"0.5"},{"r":"Wheat_Prod","c":"Maize_Prod","v":0.7,"t":"0.7"},{"r":"Wheat_Prod","c":"Vegetables_Prod","v":0.5,"t":"0.5"},{"r":"Wheat_Prod","c":"Wheat_Prod","v":1.0,"t":"1.0"},{"r":"Wheat_Prod","c":"TotalPlantsVal","v":0.2,"t":"0.2"},{"r":"Wheat_Prod","c":"TotalPlantsProd","v":0.9,"t":"0.9"},
{"r":"TotalPlantsVal","c":"Subsidies","v":-0.4,"t":"-0.4"},{"r":"TotalPlantsVal","c":"Agr_Credit","v":0.4,"t":"0.4"},{"r":"TotalPlantsVal","c":"GDP","v":0.6,"t":"0.6"},{"r":"TotalPlantsVal","c":"GDP_Agriculture","v":1.0,"t":"1.0"},{"r":"TotalPlantsVal","c":"GDP_Capita","v":0.6,"t":"0.6"},{"r":"TotalPlantsVal","c":"Farms _No","v":-0.5,"t":"-0.5"},{"r":"TotalPlantsVal","c":"Farm_Subsidies","v":0.02,"t":"0.0"},{"r":"TotalPlantsVal","c":"GVA_Economy","v":0.6,"t":"0.6"},{"r":"TotalPlantsVal","c":"GVA_Agriculture","v":0.7,"t":"0.7"},{"r":"TotalPlantsVal","c":"GVA_Farm","v":-0.3,"t":"-0.3"},{"r":"TotalPlantsVal","c":"GVA_Capita","v":0.7,"t":"0.7"},{"r":"TotalPlantsVal","c":"Grapes_Val","v":0.4,"t":"0.4"},{"r":"TotalPlantsVal","c":"Maize_Val","v":0.5,"t":"0.5"},{"r":"TotalPlantsVal","c":"Vegetables_Val","v":0.7,"t":"0.7"},{"r":"TotalPlantsVal","c":"Wheat_Val","v":0.6,"t":"0.6"},{"r":"TotalPlantsVal","c":"Grapes_Prod","v":-0.4,"t":"-0.4"},{"r":"TotalPlantsVal","c":"Maize_Prod","v":0.5,"t":"0.5"},{"r":"TotalPlantsVal","c":"Vegetables_Prod","v":0.5,"t":"0.5"},{"r":"TotalPlantsVal","c":"Wheat_Prod","v":0.2,"t":"0.2"},{"r":"TotalPlantsVal","c":"TotalPlantsVal","v":1.0,"t":"1.0"},{"r":"TotalPlantsVal","c":"TotalPlantsProd","v":0.3,"t":"0.3"},
{"r":"TotalPlantsProd","c":"Subsidies","v":-0.1,"t":"-0.1"},{"r":"TotalPlantsProd","c":"Agr_Credit","v":0.3,"t":"0.3"},{"r":"TotalPlantsProd","c":"GDP","v":-0.02,"t":"-0.0"},{"r":"TotalPlantsProd","c":"GDP_Agriculture","v":0.2,"t":"0.2"},{"r":"TotalPlantsProd","c":"GDP_Capita","v":-0.02,"t":"-0.0"},{"r":"TotalPlantsProd","c":"Farms _No","v":-0.4,"t":"-0.4"},{"r":"TotalPlantsProd","c":"Farm_Subsidies","v":0.2,"t":"0.2"},{"r":"TotalPlantsProd","c":"GVA_Economy","v":-0.02,"t":"-0.0"},{"r":"TotalPlantsProd","c":"GVA_Agriculture","v":-0.02,"t":"-0.0"},{"r":"TotalPlantsProd","c":"GVA_Farm","v":0.5,"t":"0.5"},{"r":"TotalPlantsProd","c":"GVA_Capita","v":-0.02,"t":"-0.0"},{"r":"TotalPlantsProd","c":"Grapes_Val","v":-0.4,"t":"-0.4"},{"r":"TotalPlantsProd","c":"Maize_Val","v":-0.5,"t":"-0.5"},{"r":"TotalPlantsProd","c":"Vegetables_Val","v":0.3,"t":"0.3"},{"r":"TotalPlantsProd","c":"Wheat_Val","v":0.6,"t":"0.6"},{"r":"TotalPlantsProd","c":"Grapes_Prod","v":0.5,"t":"0.5"},{"r":"TotalPlantsProd","c":"Maize_Prod","v":0.9,"t":"0.9"},{"r":"TotalPlantsProd","c":"Vegetables_Prod","v":0.7,"t":"0.7"},{"r":"TotalPlantsProd","c":"Wheat_Prod","v":0.9,"t":"0.9"},{"r":"TotalPlantsProd","c":"TotalPlantsVal","v":0.3,"t":"0.3"},{"r":"TotalPlantsProd","c":"TotalPlantsProd","v":1.0,"t":"1.0"}
]},
"encoding": {
  "x": {"field": "c", "type": "nominal",
    "scale": {"domain": ["Subsidies","Agr_Credit","GDP","GDP_Agriculture","GDP_Capita","Farms _No","Farm_Subsidies","GVA_Economy","GVA_Agriculture","GVA_Farm","GVA_Capita","Grapes_Val","Maize_Val","Vegetables_Val","Wheat_Val","Grapes_Prod","Maize_Prod","Vegetables_Prod","Wheat_Prod","TotalPlantsVal","TotalPlantsProd"], "paddingInner": 0, "paddingOuter": 0},
    "axis": {"title": null, "orient": "bottom", "domain": false, "ticks": true, "tickSize": 21, "tickWidth": 3.5, "tickColor": "black", "labelAngle": -90, "labelPadding": 16, "labelFontSize": 60, "labelColor": "black", "labelFont": "DejaVu Sans", "labelLimit": 2000, "labelOverlap": false}},
  "y": {"field": "r", "type": "nominal",
    "scale": {"domain": ["Subsidies","Agr_Credit","GDP","GDP_Agriculture","GDP_Capita","Farms _No","Farm_Subsidies","GVA_Economy","GVA_Agriculture","GVA_Farm","GVA_Capita","Grapes_Val","Maize_Val","Vegetables_Val","Wheat_Val","Grapes_Prod","Maize_Prod","Vegetables_Prod","Wheat_Prod","TotalPlantsVal","TotalPlantsProd"], "paddingInner": 0, "paddingOuter": 0.5},
    "axis": {"title": null, "domain": false, "ticks": true, "tickSize": 21, "tickWidth": 3.5, "tickColor": "black", "labelPadding": 10, "labelFontSize": 60, "labelColor": "black", "labelFont": "DejaVu Sans", "labelLimit": 2000, "labelOverlap": false}}
},
"layer": [
  {"mark": {"type": "rect"},
   "encoding": {
     "color": {"field": "v", "type": "quantitative",
       "scale": {"type": "linear", "domain": [-0.889, -0.7316, -0.4168, -0.1019, 0.2129, 0.5278, 0.8426, 1.0], "range": ["#03051a", "#35193e", "#701f57", "#ad1759", "#e13342", "#f37651", "#f6b48f", "#faebdd"], "interpolate": "rgb", "clamp": true},
       "legend": {"type": "gradient", "title": null, "orient": "right", "offset": 155, "direction": "vertical", "gradientLength": 1996, "gradientThickness": 98, "gradientStrokeWidth": 0, "values": [-0.75, -0.5, -0.25, 0, 0.25, 0.5, 0.75, 1.0], "format": ".2f", "labelFontSize": 60, "labelFont": "DejaVu Sans", "labelColor": "black", "labelOffset": 22, "labelOverlap": false,
         "encode": {"labels": {"update": {"baseline": {"value": "middle"}}}}}}
   }},
  {"mark": {"type": "text", "fontSize": 62, "font": "DejaVu Sans", "align": "center", "baseline": "middle"},
   "encoding": {
     "text": {"field": "t", "type": "nominal"},
     "color": {"condition": {"test": "datum.v >= 0.55", "value": "#262626"}, "value": "#ffffff"}
   }}
]
}
